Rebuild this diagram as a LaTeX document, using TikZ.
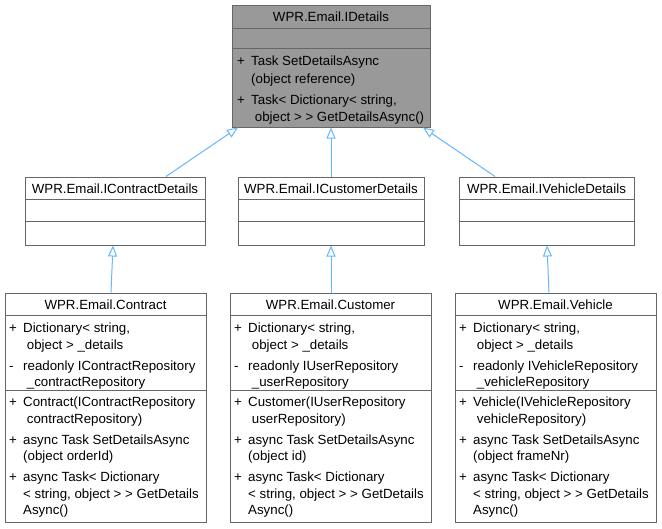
\documentclass[tikz,border=0pt]{standalone}
\usepackage{fontspec}
\setmainfont{Liberation Sans}
\usetikzlibrary{arrows.meta}
\definecolor{bord}{HTML}{666666}
\definecolor{hfill}{HTML}{999999}
\definecolor{edgec}{HTML}{63B8FF}
\newcommand\cfont{\fontsize{13.3}{16.5}\selectfont}
\newcommand\cfontw{\fontsize{13.3}{17.5}\selectfont}
\newcommand\pl[1]{\makebox[14pt][l]{#1}}
\newcommand\ct{\hspace*{14pt}}
\newcommand\st{\rule{0pt}{10pt}}
\tikzset{
  cls/.style={draw=bord, line width=1pt, fill=white, inner sep=0pt, rectangle},
  hcls/.style={cls, fill=hfill},
  ttl/.style={font=\cfont, inner sep=0pt, anchor=base},
  txt/.style={font=\cfont, inner sep=0pt, anchor=north west, align=left},
  sepline/.style={draw=bord, line width=1pt},
  edge/.style={draw=edgec, line width=1pt, -{Triangle[length=11pt,width=9pt,fill=white]}}
}
\begin{document}
\begin{tikzpicture}[x=1pt,y=-1pt]
\fill[white] (0,0) rectangle (662,528);
\useasboundingbox (0,0) rectangle (662,528);

% top interface
\node[hcls, minimum width=198pt, minimum height=122pt] (idetails) at (331,66) {};
\draw[sepline] ([yshift=-24pt]idetails.north west) -- ([yshift=-24pt]idetails.north east);
\draw[sepline] ([yshift=-44pt]idetails.north west) -- ([yshift=-44pt]idetails.north east);
\node[ttl] (idetailsT) at (331,21.5) {WPR.Email.IDetails};
\node[txt, font=\cfontw] (idetailsM) at (237,55.5) {\st\pl{+}Task SetDetailsAsync\\\ct(object reference)\\[3.5pt]\pl{+}Task< Dictionary< string,\\\ct\ object > > GetDetailsAsync()};

% middle interfaces
\node[cls, minimum width=180pt, minimum height=68pt] (icontract) at (115,211) {};
\node[cls, minimum width=186pt, minimum height=68pt] (icustomer) at (331,211) {};
\node[cls, minimum width=175pt, minimum height=68pt] (ivehicle) at (546.5,211) {};
\foreach \n in {icontract,icustomer,ivehicle}{
  \draw[sepline] ([yshift=-23pt]\n.north west) -- ([yshift=-23pt]\n.north east);
  \draw[sepline] ([yshift=-45pt]\n.north west) -- ([yshift=-45pt]\n.north east);
}
\node[ttl] (icontractT) at (115,193.5) {WPR.Email.IContractDetails};
\node[ttl] (icustomerT) at (331,193.5) {WPR.Email.ICustomerDetails};
\node[ttl] (ivehicleT) at (546.5,193.5) {WPR.Email.IVehicleDetails};

% bottom classes
\node[cls, minimum width=201pt, minimum height=229pt] (contract) at (105.5,407.5) {};
\node[cls, minimum width=201pt, minimum height=229pt] (customer) at (330.5,407.5) {};
\node[cls, minimum width=201pt, minimum height=229pt] (vehicle) at (555.5,407.5) {};
\foreach \n in {contract,customer,vehicle}{
  \draw[sepline] ([yshift=-23pt]\n.north west) -- ([yshift=-23pt]\n.north east);
  \draw[sepline] ([yshift=-98pt]\n.north west) -- ([yshift=-98pt]\n.north east);
}
\node[ttl] (contractT) at (105.5,309) {WPR.Email.Contract};
\node[ttl] (customerT) at (330.5,309) {WPR.Email.Customer};
\node[ttl] (vehicleT) at (555.5,309) {WPR.Email.Vehicle};

\node[txt] (contractA) at (9,322.5) {\st\pl{+}Dictionary< string,\\\ct\ object > \_details\\[4.5pt]\pl{-}readonly IContractRepository\\\ct\ \_contractRepository};
\node[txt] (customerA) at (234,322.5) {\st\pl{+}Dictionary< string,\\\ct\ object > \_details\\[4.5pt]\pl{-}readonly IUserRepository\\\ct\ \_userRepository};
\node[txt] (vehicleA) at (459,322.5) {\st\pl{+}Dictionary< string,\\\ct\ object > \_details\\[4.5pt]\pl{-}readonly IVehicleRepository\\\ct\ \_vehicleRepository};

\node[txt] (contractM) at (9,396.5) {\st\pl{+}Contract(IContractRepository\\\ct\ contractRepository)\\[4.5pt]\pl{+}async Task SetDetailsAsync\\\ct(object orderId)\\[4.5pt]\pl{+}async Task< Dictionary\\\ct< string, object > > GetDetails\\\ct Async()};
\node[txt] (customerM) at (234,396.5) {\st\pl{+}Customer(IUserRepository\\\ct\ userRepository)\\[4.5pt]\pl{+}async Task SetDetailsAsync\\\ct(object id)\\[4.5pt]\pl{+}async Task< Dictionary\\\ct< string, object > > GetDetails\\\ct Async()};
\node[txt] (vehicleM) at (459,396.5) {\st\pl{+}Vehicle(IVehicleRepository\\\ct\ vehicleRepository)\\[4.5pt]\pl{+}async Task SetDetailsAsync\\\ct(object frameNr)\\[4.5pt]\pl{+}async Task< Dictionary\\\ct< string, object > > GetDetails\\\ct Async()};

% inheritance edges
\draw[edge] ([xshift=5.5pt]contract.north) -- ([xshift=-2pt]icontract.south);
\draw[edge] ([xshift=0.5pt]customer.north) -- (icustomer.south);
\draw[edge] ([xshift=-6.5pt]vehicle.north) -- ([xshift=0.5pt]ivehicle.south);
\draw[edge] ([xshift=51pt]icontract.north) -- ([xshift=-93pt]idetails.south);
\draw[edge] (icustomer.north) -- (idetails.south);
\draw[edge] ([xshift=-51.5pt]ivehicle.north) -- ([xshift=92pt]idetails.south);
\end{tikzpicture}
\end{document}
